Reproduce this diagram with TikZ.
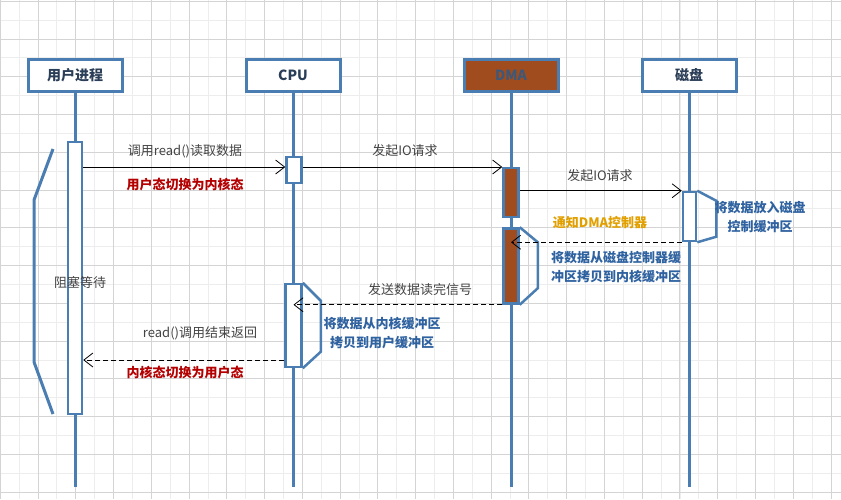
\documentclass[tikz,border=0pt]{standalone}
\usepackage{fontspec}
\setmainfont{Noto Sans CJK SC}
\usetikzlibrary{arrows.meta}
\definecolor{lineblue}{HTML}{4A7DB2}
\definecolor{dmabrown}{HTML}{A04C1E}
\definecolor{headtext}{HTML}{2B3E58}
\definecolor{dmatext}{HTML}{3D5878}
\definecolor{labgrey}{HTML}{444444}
\definecolor{labred}{HTML}{B40000}
\definecolor{labgold}{HTML}{E2A000}
\definecolor{labblue}{HTML}{2F62A0}
\definecolor{gminor}{HTML}{EDEDED}
\definecolor{gmajor}{HTML}{D4D4D4}
\tikzset{
  gridminor/.style={gminor, line width=0.8pt},
  gridmajor/.style={gmajor, line width=0.9pt},
  head/.style={draw=lineblue, line width=3pt, fill=white, minimum width=94pt, minimum height=32pt, inner sep=0pt, font=\fontsize{14}{16}\selectfont\bfseries, text=headtext},
  life/.style={lineblue, line width=3pt},
  actbar/.style={draw=lineblue, line width=2.5pt, fill=white, inner sep=0pt},
  dmabar/.style={actbar, fill=dmabrown},
  note/.style={lineblue, line width=2.5pt, line join=miter},
  msg/.style={black, line width=0.8pt, -{Straight Barb[length=9pt,width=14pt,line width=0.8pt]}},
  ret/.style={msg, dash pattern=on 5pt off 3pt},
  lab/.style={font=\fontsize{13}{15}\selectfont, text=labgrey, inner sep=0pt},
  redlab/.style={lab, text=labred, font=\fontsize{13}{15}\selectfont\bfseries},
  goldlab/.style={lab, text=labgold, font=\fontsize{13}{15}\selectfont\bfseries},
  bluelab/.style={lab, text=labblue, align=center, font=\fontsize{13}{19.5}\selectfont\bfseries},
}
\begin{document}
\begin{tikzpicture}[x=1pt,y=-1pt]
\useasboundingbox (0,0) rectangle (841,499);
\fill[white] (0,0) rectangle (841,499);
% grid
\foreach \i in {0,...,44} \draw[gridminor] ({0.24+\i*18.88},0) -- ({0.24+\i*18.88},499);
\foreach \j in {0,...,26} \draw[gridminor] (0,{1.2+\j*18.88}) -- (841,{1.2+\j*18.88});
\foreach \i in {0,...,22} \draw[gridmajor] ({0.24+\i*37.76},0) -- ({0.24+\i*37.76},499);
\foreach \j in {0,...,13} \draw[gridmajor] (0,{1.2+\j*37.76}) -- (841,{1.2+\j*37.76});

% headers
\node[head] (u) at (75,75) {用户进程};
\node[head] (c) at (293,75) {CPU};
\node[head, fill=dmabrown, text=dmatext] (d) at (511,75) {DMA};
\node[head] (k) at (689,75) {磁盘};

% lifeline ends
\coordinate (ue) at (75,487);
\coordinate (ce) at (293,487);
\coordinate (de) at (511,487);
\coordinate (ke) at (689,487);
\draw[life] (u.south) -- (ue);
\draw[life] (c.south) -- (ce);
\draw[life] (d.south) -- (de);
\draw[life] (k.south) -- (ke);

% blocking bracket
\draw[note, line width=3pt] (53,149) -- (34,200) -- (34,362) -- (53,414);

% activation bars
\node[actbar, minimum width=14pt, minimum height=272pt] (ub) at (75,278) {};
\node[actbar, minimum width=15pt, minimum height=26pt] (cb1) at (294,170) {};
\node[dmabar, minimum width=15pt, minimum height=49pt] (db1) at (511,192.5) {};
\node[actbar, minimum width=13pt, minimum height=49pt] (kb) at (689.5,216.5) {};
\node[dmabar, minimum width=15pt, minimum height=75pt] (db2) at (511,266) {};
\node[actbar, minimum width=16pt, minimum height=83pt] (cb2) at (293.5,325.5) {};

% note trapezoids
\draw[note] (kb.north east) -- ++(19,10) -- ++(0,36) -- (kb.south east);
\draw[note] (db2.north east) -- ++(18,15) -- ++(0,46) -- (db2.south east);
\draw[note] (cb2.north east) -- ++(18,18) -- ++(0,51) -- (cb2.south east);

% messages
\draw[msg] (ub.east |- 0,167) -- (cb1.west |- 0,167);
\draw[msg] (cb1.east |- 0,167) -- (db1.west |- 0,167);
\draw[msg] (db1.east |- kb.north west) -- (kb.north west);
\draw[ret] (kb.south west) -- (db2 |- kb.south west);
\draw[ret] (db2.south west) -- (cb2 |- db2.south west);
\draw[ret] (cb2.west |- 0,360) -- (ub.east |- 0,360);

% labels
\node[lab] (l1) at (185,151) {调用read()读取数据};
\node[redlab] (l2) at (185,185) {用户态切换为内核态};
\node[lab] (l3) at (405,151) {发起IO请求};
\node[lab] (l4) at (600,176) {发起IO请求};
\node[goldlab] (l5) at (600,223) {通知DMA控制器};
\node[bluelab] (n1) at (760,217) {将数据放入磁盘\\控制缓冲区};
\node[bluelab] (n2) at (616,267) {将数据从磁盘控制器缓\\冲区拷贝到内核缓冲区};
\node[lab] (l6) at (420,290) {发送数据读完信号};
\node[bluelab] (n3) at (382,333) {将数据从内核缓冲区\\拷贝到用户缓冲区};
\node[lab] (l7) at (200,333) {read()调用结束返回};
\node[redlab] (l8) at (185,373) {内核态切换为用户态};
\node[lab] (l9) at (80,283) {阻塞等待};
\end{tikzpicture}
\end{document}
